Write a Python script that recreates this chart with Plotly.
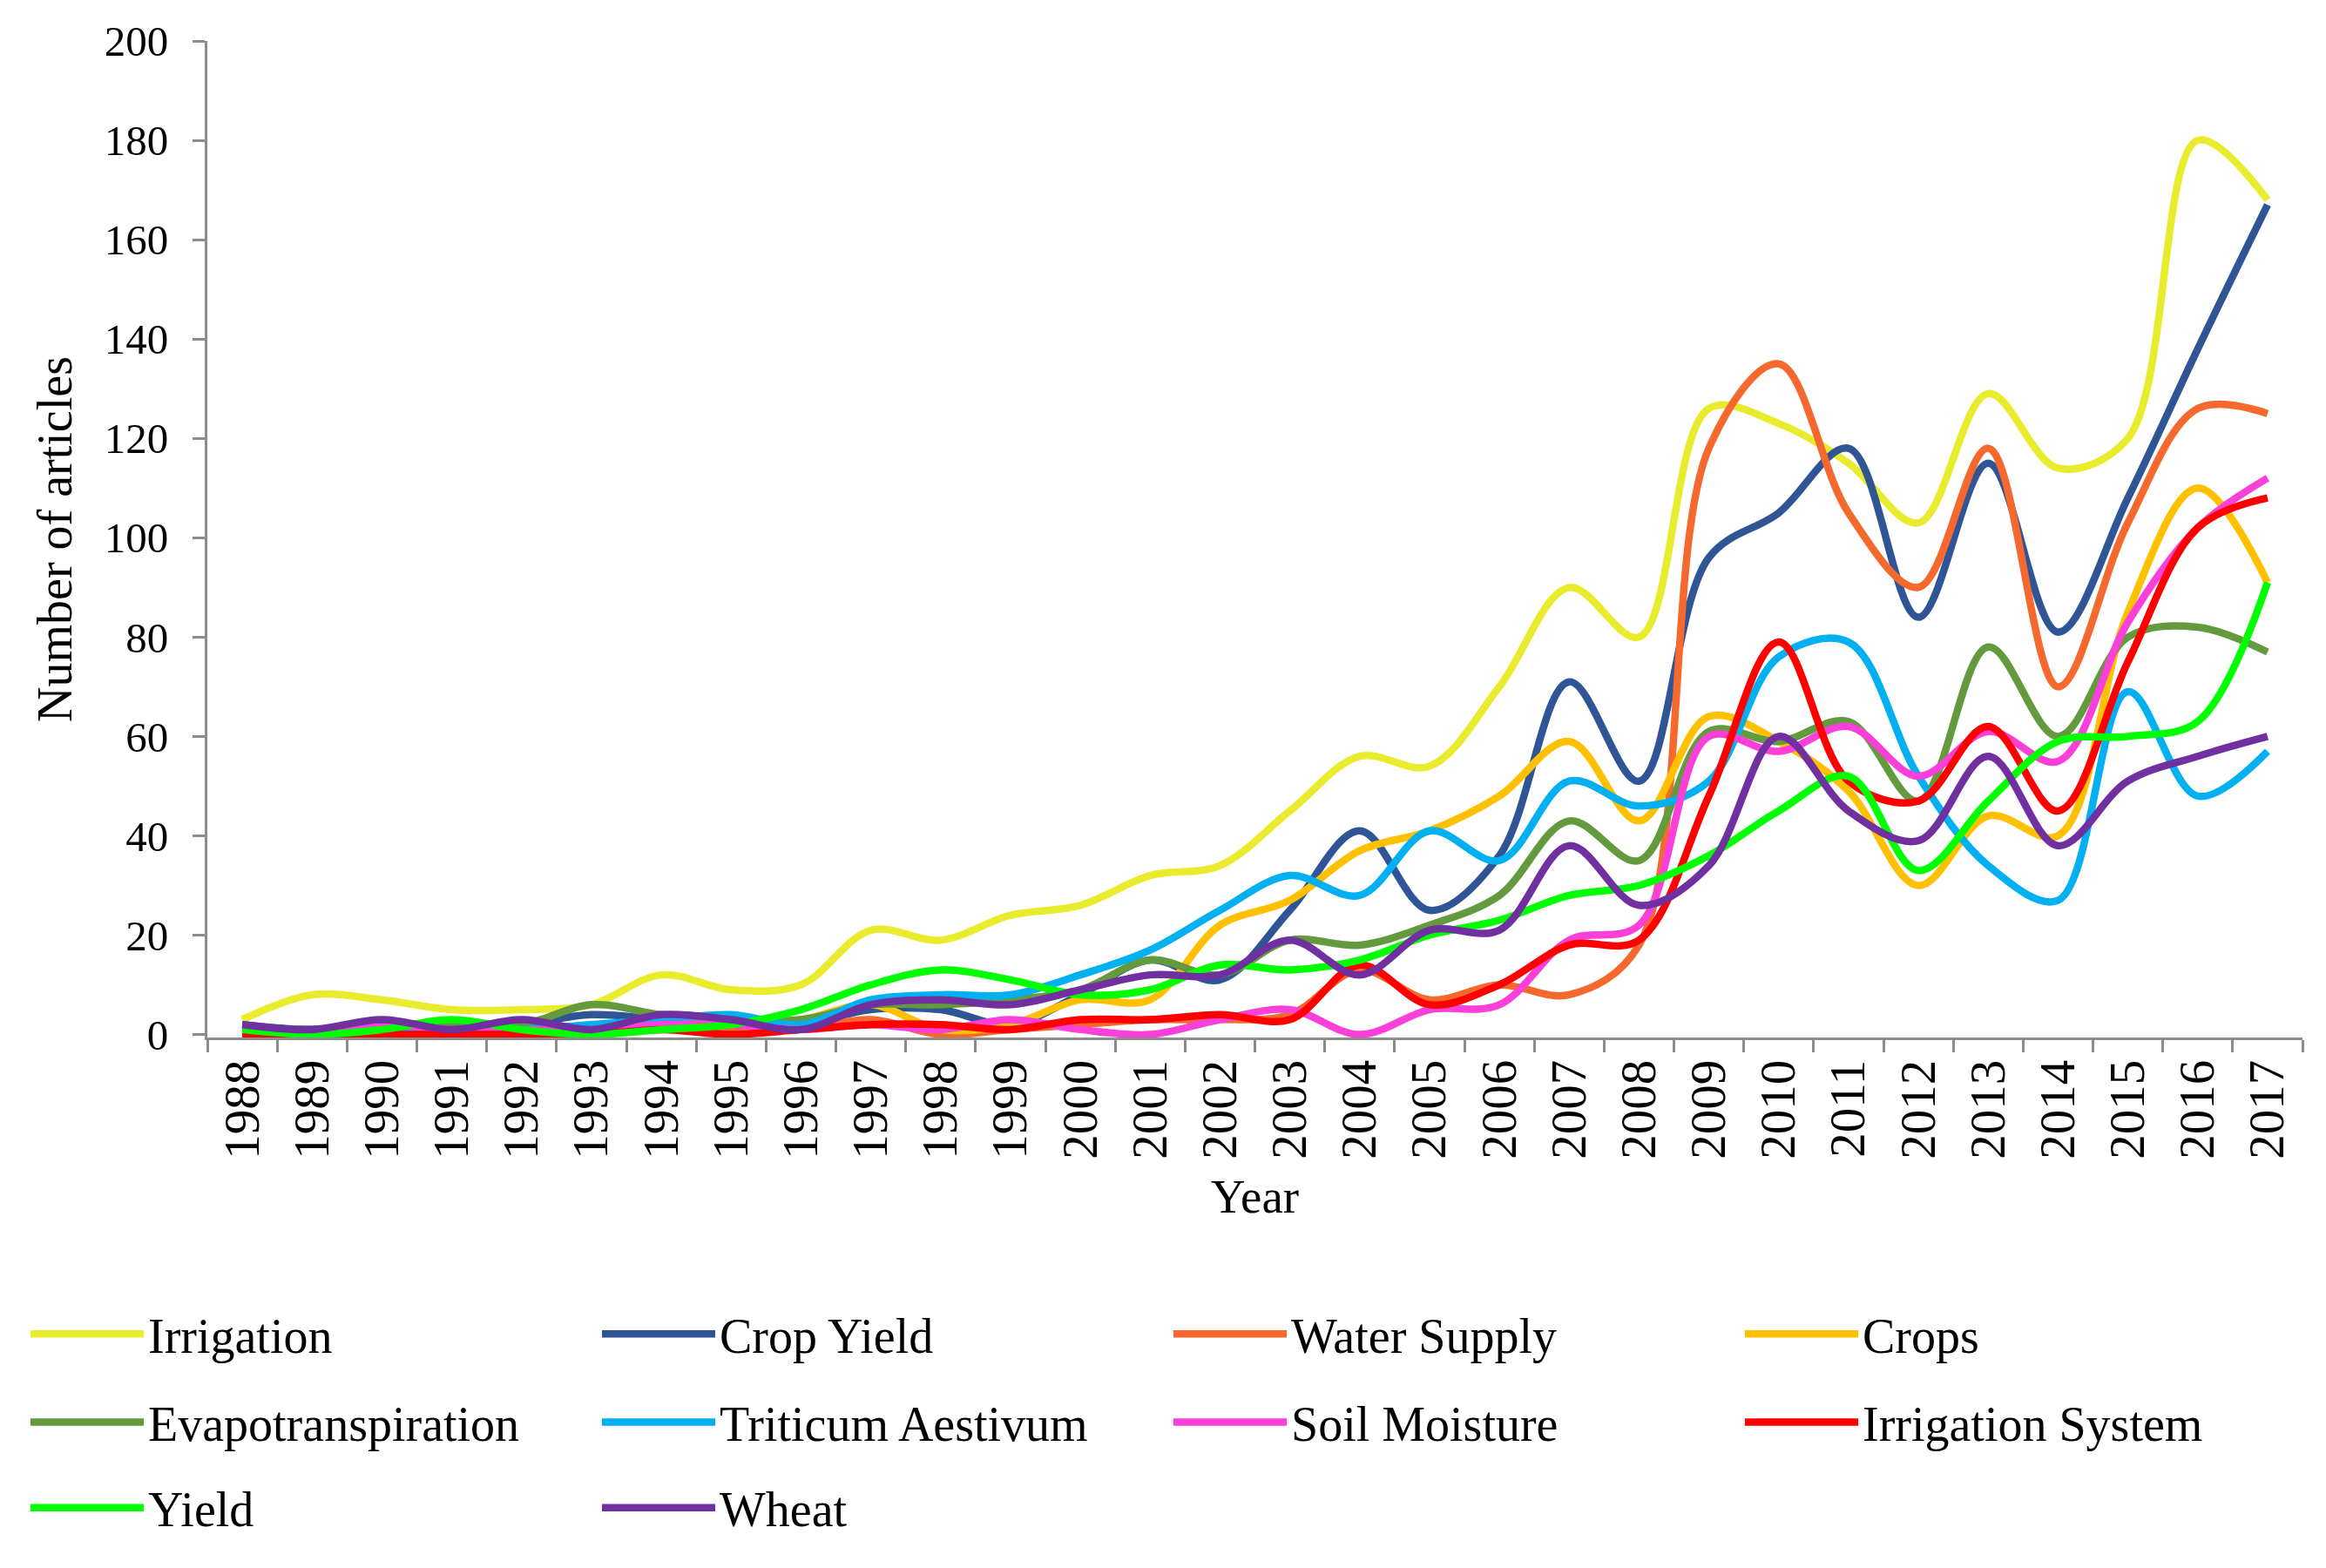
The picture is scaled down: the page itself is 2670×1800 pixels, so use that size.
import plotly.graph_objects as go

years = [str(y) for y in range(1988, 2018)]

irrigation = [3, 8, 7, 5, 5, 6, 12, 9, 10, 21, 19, 24, 26, 32, 34, 45, 56, 54, 70, 90, 80, 126, 123, 115, 103, 129, 114, 120, 180, 168]
crop_yield = [2, 1, 2, 1, 2, 4, 3, 2, 2, 5, 5, 2, 8, 15, 11, 25, 41, 25, 36, 71, 51, 96, 105, 118, 84, 115, 81, 108, 138, 167]
water_supply = [0, 0, 0, 0, 0, 0, 1, 1, 1, 3, 0, 1, 2, 3, 3, 4, 13, 7, 10, 8, 18, 118, 135, 105, 90, 118, 70, 103, 126, 125]
crops = [1, 1, 1, 1, 1, 1, 2, 2, 3, 6, 1, 2, 7, 7, 22, 27, 37, 41, 48, 59, 43, 64, 59, 49, 30, 44, 40, 85, 110, 91]
evapotranspiration = [1, 1, 2, 2, 2, 6, 4, 3, 3, 6, 6, 7, 9, 15, 12, 19, 18, 22, 28, 43, 35, 61, 59, 63, 47, 78, 60, 80, 82, 77]
triticum_aestivum = [1, 1, 1, 1, 1, 2, 3, 4, 2, 7, 8, 8, 12, 17, 25, 32, 28, 41, 35, 51, 46, 51, 76, 79, 52, 34, 27, 69, 48, 57]
soil_moisture = [1, 1, 2, 1, 1, 1, 2, 2, 1, 2, 1, 3, 1, 0, 3, 5, 0, 5, 6, 19, 22, 60, 57, 62, 52, 61, 55, 83, 102, 112]
irrigation_system = [0, 0, 0, 0, 0, 0, 1, 0, 1, 2, 2, 1, 3, 3, 4, 3, 14, 6, 10, 18, 19, 48, 79, 51, 47, 62, 45, 75, 102, 108]
yield_ = [1, 0, 1, 3, 1, 0, 1, 2, 5, 10, 13, 11, 8, 9, 14, 13, 15, 20, 23, 28, 30, 36, 45, 52, 33, 47, 59, 60, 63, 91]
wheat = [2, 1, 3, 1, 3, 1, 4, 3, 1, 6, 7, 6, 9, 12, 12, 19, 12, 21, 21, 38, 26, 34, 60, 45, 39, 56, 38, 51, 56, 60]

series = [
    ("Irrigation", irrigation, "#E8EC2C", "legend"),
    ("Crop Yield", crop_yield, "#2F5597", "legend"),
    ("Water Supply", water_supply, "#F5692E", "legend"),
    ("Crops", crops, "#FFC000", "legend"),
    ("Evapotranspiration", evapotranspiration, "#639A3E", "legend2"),
    ("Triticum Aestivum", triticum_aestivum, "#00B0F0", "legend2"),
    ("Soil Moisture", soil_moisture, "#FA40D8", "legend2"),
    ("Irrigation System", irrigation_system, "#FF0000", "legend2"),
    ("Yield", yield_, "#00FF00", "legend3"),
    ("Wheat", wheat, "#7030A0", "legend3"),
]

FONT = "Liberation Serif"

fig = go.Figure()
for name, vals, color, lg in series:
    fig.add_trace(go.Scatter(
        x=years, y=vals, name=name, mode="lines",
        line=dict(color=color, width=8.5, shape="spline", smoothing=1.0),
        legend=lg,
    ))

W, H = 2670, 1800
L, R, T, B = 230, 35, 30, 617
plot_h = H - T - B
plot_w = W - L - R

def py(pix):
    return (H - B - pix) / plot_h

legend_common = dict(
    orientation="h", xanchor="left", yanchor="middle",
    x=(22 - L) / plot_w,
    entrywidth=511, entrywidthmode="pixels",
    itemwidth=130,
    font=dict(family=FONT, size=56, color="black"),
    bgcolor="rgba(0,0,0,0)",
)

fig.update_layout(
    width=W, height=H,
    margin=dict(l=L, r=R, t=T, b=B),
    paper_bgcolor="white", plot_bgcolor="white",
    font=dict(family=FONT, size=50, color="black"),
    showlegend=True,
    legend=dict(**legend_common, y=py(1526)),
    legend2=dict(**legend_common, y=py(1628)),
    legend3=dict(**legend_common, y=py(1727)),
    xaxis=dict(
        type="category", range=[-0.5, 29.5],
        showline=True, linecolor="#8C8C8C", linewidth=3,
        ticks="outside", tickson="boundaries", ticklen=14, tickwidth=3, tickcolor="#8C8C8C",
        tickangle=-90, tickfont=dict(family=FONT, size=57, color="black"),
        showgrid=False, zeroline=False,
        title=dict(text="Year", font=dict(family=FONT, size=55, color="black"), standoff=24),
    ),
    yaxis=dict(
        range=[-0.6, 200], tickmode="linear", tick0=0, dtick=20,
        showline=True, linecolor="#8C8C8C", linewidth=3,
        ticks="outside", ticklen=14, tickwidth=3, tickcolor="#8C8C8C",
        tickfont=dict(family=FONT, size=49, color="black"),
        ticklabelstandoff=18,
        showgrid=False, zeroline=False,
        title=dict(text="Number of articles", font=dict(family=FONT, size=56, color="black"), standoff=20),
    ),
)

fig.write_html("out.html")
